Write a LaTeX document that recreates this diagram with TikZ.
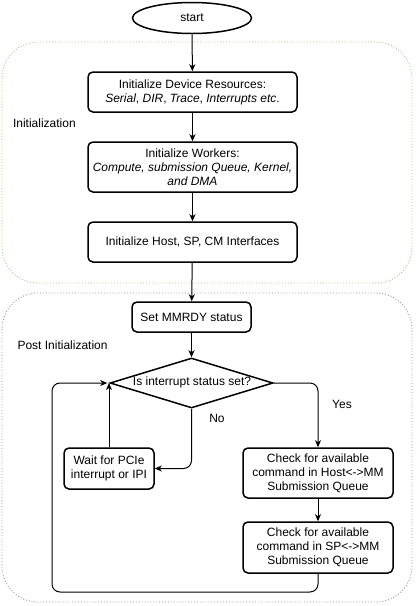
\documentclass[tikz,border=0pt]{standalone}
\usepackage{fontspec}
\setmainfont{Liberation Sans}
\usetikzlibrary{shapes.geometric,arrows.meta,positioning}
\begin{document}
\begin{tikzpicture}[x=1pt,y=-1pt,
  font=\fontsize{12}{14}\selectfont,
  box/.style={draw, line width=1.5pt, rounded corners=5pt, align=center, inner sep=0pt},
  arr/.style={-{Stealth[length=7pt,width=6pt,inset=2pt]}, line width=1pt},
  grp/.style={dotted, line width=0.9pt, rounded corners=36pt}
]
\useasboundingbox (0,0) rectangle (416,606);
% containers
\draw[grp, draw={rgb,255:red,151;green,208;blue,119}] (2,42) rectangle (412,283);
\draw[grp, draw={rgb,255:red,166;green,128;blue,184}] (2,293) rectangle (412,602);
\node[anchor=west] (linit) at (9.5,123) {Initialization};
\node[anchor=west] (lpost) at (14,345) {Post Initialization};
% nodes
\node[draw, ellipse, line width=1.5pt, minimum width=119pt, minimum height=31pt, inner sep=0pt] (start) at (192,18) {start};
\node[box, minimum width=209pt, minimum height=40pt] (b1) at (192.5,92) {Initialize Device Resources:\\\textit{Serial}, \textit{DIR}, \textit{Trace}, \textit{Interrupts etc}.};
\node[box, minimum width=209pt, minimum height=50pt] (b2) at (192.5,167) {Initialize Workers:\\\textit{Compute, submission Queue, Kernel,}\\\textit{and DMA}};
\node[box, minimum width=209pt, minimum height=40pt] (b3) at (192.5,242) {Initialize Host, SP, CM Interfaces};
\node[box, minimum width=119pt, minimum height=30pt] (b4) at (191.5,317) {Set MMRDY status};
\node[draw, diamond, aspect=3.26, line width=1.5pt, minimum width=163pt, minimum height=50pt, inner sep=0pt] (dec) at (191.5,383) {};
\node at (192,382) {Is interrupt status set?};
\node[box, minimum width=90pt, minimum height=41pt] (wait) at (109,468.5) {Wait for PCIe\\interrupt or IPI};
\node[box, minimum width=150pt, minimum height=50pt] (c1) at (318,473) {Check for available\\command in Host<->MM\\Submission Queue};
\node[box, minimum width=150pt, minimum height=51pt] (c2) at (318,547.5) {Check for available\\command in SP<->MM\\Submission Queue};
\coordinate (loopa) at (318,592);
\coordinate (loopb) at (52,592);
% edges
\draw[arr] (start) -- (b1);
\draw[arr] (b1) -- (b2);
\draw[arr] (b2) -- (b3);
\draw[arr] (b3) -- (b4);
\draw[arr] (b4) -- (dec);
\draw[arr, rounded corners=8pt] (dec.south) |- (wait.east);
\draw[arr, rounded corners=8pt] (dec.east) -| (c1.north);
\draw[arr] (c1) -- (c2);
\draw[arr] (wait.north) -- (wait.north |- dec.west);
\draw[arr, rounded corners=8pt] (c2.south) -- (loopa) -- (loopb) |- ([xshift=-2pt]dec.west);
\node (lno) at (217,418) {No};
\node (lyes) at (342,404) {Yes};
\end{tikzpicture}
\end{document}
